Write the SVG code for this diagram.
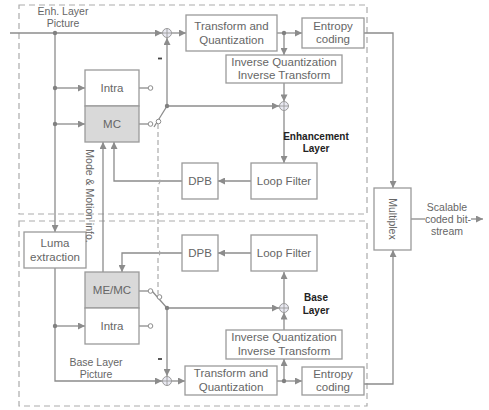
<svg xmlns="http://www.w3.org/2000/svg" width="489" height="410" viewBox="0 0 489 410">
<style>
.bx{fill:#fff;stroke:#9a9a9a;stroke-width:1.3}
.gr{fill:#d9d9d9;stroke:#9a9a9a;stroke-width:1.3}
.ln{fill:none;stroke:#8c8c8c;stroke-width:1.3}
.ar{fill:none;stroke:#8c8c8c;stroke-width:1.3;marker-end:url(#ah)}
.ds{fill:none;stroke:#ababab;stroke-width:1.2;stroke-dasharray:6 4}
.dt{fill:#808080}
.oc{fill:#fff;stroke:#8c8c8c;stroke-width:1}
.t{font-family:"Liberation Sans",Arial,sans-serif;font-size:11.5px;fill:#666;text-anchor:middle}
.s{font-family:"Liberation Sans",Arial,sans-serif;font-size:10.5px;fill:#666;text-anchor:middle}
.b{font-family:"Liberation Sans",Arial,sans-serif;font-size:10px;font-weight:bold;fill:#222;text-anchor:middle}
.sum circle{fill:#e9e9f2;stroke:#9a9a9a;stroke-width:1}
.sum path{stroke:#9a9a9a;stroke-width:0.9}
</style>
<defs>
<marker id="ah" viewBox="0 0 10 10" refX="10" refY="5" markerWidth="8" markerHeight="7" markerUnits="userSpaceOnUse" orient="auto"><path d="M0,0L10,5L0,10z" fill="#8c8c8c"/></marker>
</defs>
<g id="layers">
<rect class="ds" x="19" y="5" width="348" height="209"/>
<rect class="ds" x="19" y="221" width="348" height="185"/>
</g>
<g id="connectors">
<path class="ar" d="M10,33H162"/>
<path class="ar" d="M55,33V232"/>
<path class="ar" d="M55,88H85"/>
<path class="ar" d="M55,124H85"/>
<path class="ln" d="M139,88H148"/>
<path class="ln" d="M139,124H148"/>
<path class="ln" d="M154,127L167,106"/>
<path class="ar" d="M167,106V38"/>
<path class="ar" d="M167,106H279"/>
<path class="ar" d="M171.5,33H186"/>
<path class="ar" d="M277,33H302"/>
<path class="ar" d="M284,33V55"/>
<path class="ar" d="M284,83V101.5"/>
<path class="ar" d="M284,110.5V163"/>
<path class="ar" d="M251,181H218"/>
<path class="ar" d="M182,181H114V142"/>
<path class="ar" d="M103,272V142"/>
<path class="ar" d="M364,33H393V188"/>
<path class="ln" d="M411,219H425"/>
<path class="ar" d="M471,219H483"/>
<path class="ar" d="M55,268V381H162"/>
<path class="ar" d="M55,326H85"/>
<path class="ar" d="M182,253H122V272"/>
<path class="ar" d="M251,253H218"/>
<path class="ln" d="M139,291H148"/>
<path class="ln" d="M139,326H148"/>
<path class="ln" d="M152,291L167,308"/>
<path class="ar" d="M167,308H279"/>
<path class="ar" d="M167,308V376"/>
<path class="ar" d="M171.5,381H185"/>
<path class="ar" d="M277,381H302"/>
<path class="ar" d="M284,381V359"/>
<path class="ar" d="M284,330V312.5"/>
<path class="ar" d="M284,303.5V272"/>
<path class="ar" d="M364,384H393V250"/>
<path class="ds" style="stroke-dasharray:5 3" d="M158,124V177q4,4 0,8V249q4,4 0,8V294.5"/>
<circle class="dt" cx="55" cy="33" r="2.2"/>
<circle class="dt" cx="55" cy="88" r="2.2"/>
<circle class="dt" cx="55" cy="124" r="2.2"/>
<circle class="dt" cx="55" cy="326" r="2.2"/>
<circle class="dt" cx="167" cy="106" r="2.2"/>
<circle class="dt" cx="167" cy="308" r="2.2"/>
<circle class="dt" cx="284" cy="33" r="2.2"/>
<circle class="dt" cx="284" cy="381" r="2.2"/>
<circle class="oc" cx="150.5" cy="88" r="2.3"/>
<circle class="oc" cx="150.5" cy="124" r="2.3"/>
<circle class="oc" cx="158.5" cy="121.5" r="2.3"/>
<circle class="oc" cx="150.5" cy="291" r="2.3"/>
<circle class="oc" cx="150.5" cy="326" r="2.3"/>
<circle class="oc" cx="159.5" cy="297" r="2.3"/>
</g>
<g id="sum-enh-in" class="sum"><circle cx="167" cy="33" r="4.5"/><path d="M162.5,33H171.5M167,28.5V37.5"/></g>
<g id="sum-enh-rec" class="sum"><circle cx="284" cy="106" r="4.5"/><path d="M279.5,106H288.5M284,101.5V110.5"/></g>
<g id="sum-base-rec" class="sum"><circle cx="284" cy="308" r="4.5"/><path d="M279.5,308H288.5M284,303.5V312.5"/></g>
<g id="sum-base-in" class="sum"><circle cx="167" cy="381" r="4.5"/><path d="M162.5,381H171.5M167,376.5V385.5"/></g>
<g id="enh-intra"><rect class="bx" x="85" y="70" width="54" height="36"/><text class="t" x="112" y="92">Intra</text></g>
<g id="enh-mc"><rect class="gr" x="85" y="106" width="54" height="36"/><text class="t" x="112" y="128">MC</text></g>
<g id="enh-tq"><rect class="bx" x="186" y="15" width="91" height="36"/><text class="t" x="231.5" y="30">Transform and</text><text class="t" x="231.5" y="44">Quantization</text></g>
<g id="enh-ec"><rect class="bx" x="302" y="18" width="62" height="30"/><text class="t" x="333" y="30">Entropy</text><text class="t" x="333" y="43">coding</text></g>
<g id="enh-iq"><rect class="bx" x="226" y="55" width="116" height="28"/><text class="t" x="284" y="66">Inverse Quantization</text><text class="t" x="284" y="79">Inverse Transform</text></g>
<g id="enh-lf"><rect class="bx" x="251" y="163" width="66" height="36"/><text class="t" x="284" y="185">Loop Filter</text></g>
<g id="enh-dpb"><rect class="bx" x="182" y="163" width="36" height="36"/><text class="t" x="200" y="185">DPB</text></g>
<g id="luma"><rect class="bx" x="24" y="232" width="62" height="36"/><text class="t" x="55" y="247">Luma</text><text class="t" x="55" y="261">extraction</text></g>
<g id="base-dpb"><rect class="bx" x="182" y="235" width="36" height="36"/><text class="t" x="200" y="257">DPB</text></g>
<g id="base-lf"><rect class="bx" x="251" y="235" width="66" height="36"/><text class="t" x="284" y="257">Loop Filter</text></g>
<g id="base-memc"><rect class="gr" x="85" y="272" width="54" height="36"/><text class="t" x="112" y="294">ME/MC</text></g>
<g id="base-intra"><rect class="bx" x="85" y="308" width="54" height="36"/><text class="t" x="112" y="330">Intra</text></g>
<g id="base-iq"><rect class="bx" x="226" y="330" width="116" height="29"/><text class="t" x="284" y="341">Inverse Quantization</text><text class="t" x="284" y="355">Inverse Transform</text></g>
<g id="base-tq"><rect class="bx" x="185" y="366" width="92" height="29"/><text class="t" x="231" y="377">Transform and</text><text class="t" x="231" y="391">Quantization</text></g>
<g id="base-ec"><rect class="bx" x="302" y="367" width="62" height="28"/><text class="t" x="333" y="378">Entropy</text><text class="t" x="333" y="391">coding</text></g>
<g id="multiplex"><rect class="bx" x="374" y="188" width="37" height="62"/><text class="s" transform="translate(392.5,219) rotate(90)" y="4">Multiplex</text></g>
<g id="labels">
<text class="s" x="63" y="15">Enh. Layer</text>
<text class="s" x="63" y="27">Picture</text>
<text class="s" x="96" y="366">Base Layer</text>
<text class="s" x="96" y="378">Picture</text>
<text class="s" transform="translate(90,196) rotate(90)" y="4">Mode &amp; Motion info.</text>
<text class="b" x="316" y="140">Enhancement</text>
<text class="b" x="316" y="152">Layer</text>
<text class="b" x="316" y="301">Base</text>
<text class="b" x="316" y="314">Layer</text>
<text class="s" x="447" y="211">Scalable</text>
<text class="s" x="448" y="223">coded bit-</text>
<text class="s" x="447" y="235">stream</text>
<path d="M158,58.5H162" stroke="#444" stroke-width="1.8"/>
<path d="M158,359H162" stroke="#444" stroke-width="1.8"/>
</g>
</svg>
